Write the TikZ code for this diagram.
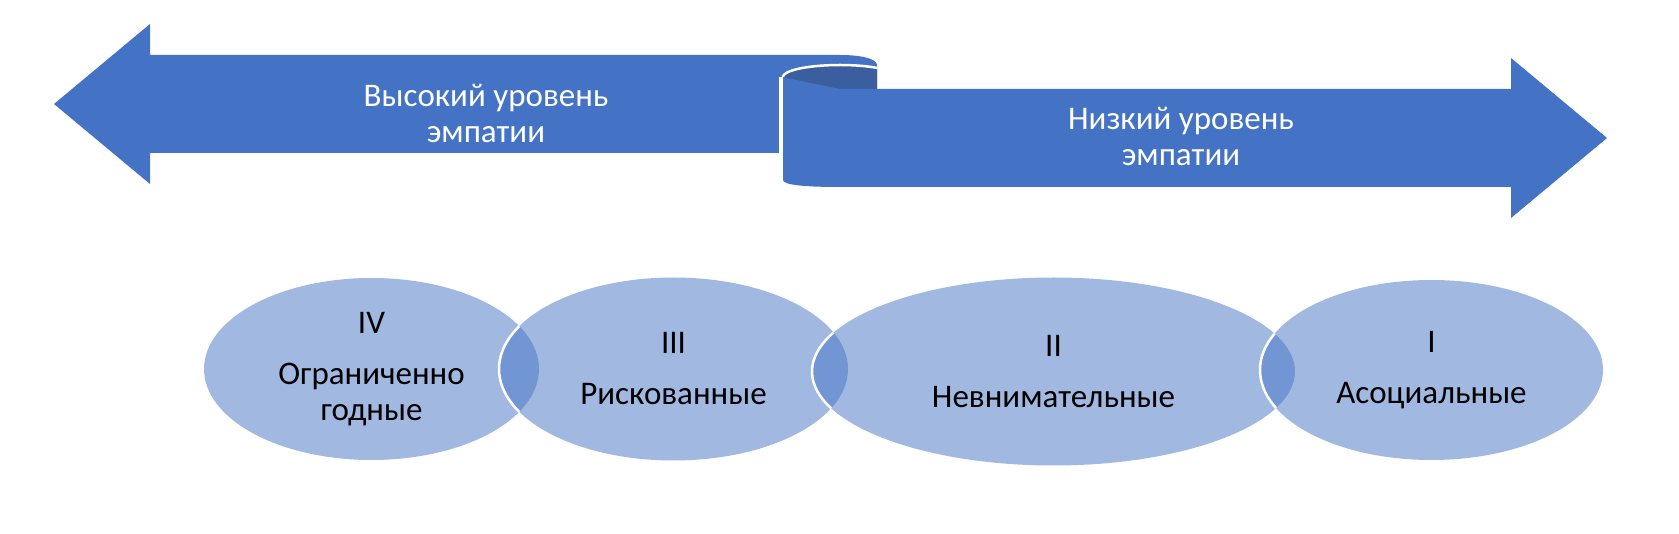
\documentclass[tikz,border=0pt]{standalone}
\usepackage{fontspec}
\setmainfont{Carlito}
\usetikzlibrary{shapes.geometric}
\definecolor{bandblue}{HTML}{4472C4}
\definecolor{foldblue}{HTML}{3A5E9E}
\tikzset{
  bandtext/.style={text=white, align=center, font=\fontsize{33}{36}\selectfont},
  stage/.style={ellipse, fill=bandblue, fill opacity=0.5, text opacity=1, inner sep=0pt,
    align=center, font=\fontsize{33}{36}\selectfont},
  rim/.style={white, line width=2.5pt},
}
\begin{document}
\begin{tikzpicture}[x=1pt,y=-1pt]
    \useasboundingbox (0,0) rectangle (1679,534);

    % Left band (back part)
    \fill[bandblue] (54,104) -- (150,24) -- (150,55) -- (840,55)
        .. controls (862,55) and (877,59) .. (877,65) -- (877,153)
        -- (150,153) -- (150,184) -- cycle;

    % Curl of the band
    \fill[foldblue] plot[domain=180:310.5,samples=30] ({840+57*cos(\x)},{77+12*sin(\x)})
        -- (877,89) -- (840,89) -- cycle;
    \fill[bandblue] plot[domain=180:90,samples=20] ({840+57*cos(\x)},{77+12*sin(\x)})
        -- (1511,89) -- (1511,58) -- (1607,138) -- (1511,218) -- (1511,187) -- (840,187)
        .. controls (805,187) and (783,185) .. (783,180) -- cycle;
    \draw[rim] plot[domain=180:310.5,samples=30] ({840+57*cos(\x)},{77+12*sin(\x)});
    \draw[white, line width=4pt] (781,77) -- (781,153);

    % Texts on the band
    \node[bandtext] (high) at (486,113) {Высокий уровень\\эмпатии};
    \node[bandtext] (low) at (1181,136) {Низкий уровень\\эмпатии};

    % Groups
    \node[stage, minimum width=335pt, minimum height=182pt] (st4) at (371.5,369) {IV\\[15pt]Ограниченно\\годные};
    \node[stage, minimum width=349pt, minimum height=183pt] (st3) at (673.5,369) {III\\[15pt]Рискованные};
    \node[stage, minimum width=483pt, minimum height=188pt] (st2) at (1053.5,371.5) {II\\[15pt]Невнимательные};
    \node[stage, minimum width=343pt, minimum height=180pt] (st1) at (1431.5,370) {I\\[15pt]Асоциальные};

    % Rims inside the overlaps
    \begin{scope}
        \clip (371.5,369) ellipse [x radius=167.5, y radius=91];
        \draw[rim] (673.5,369) ellipse [x radius=174.5, y radius=91.5];
    \end{scope}
    \begin{scope}
        \clip (673.5,369) ellipse [x radius=174.5, y radius=91.5];
        \draw[rim] (1053.5,371.5) ellipse [x radius=241.5, y radius=94];
    \end{scope}
    \begin{scope}
        \clip (1053.5,371.5) ellipse [x radius=241.5, y radius=94];
        \draw[rim] (1431.5,370) ellipse [x radius=171.5, y radius=90];
    \end{scope}
\end{tikzpicture}
\end{document}
